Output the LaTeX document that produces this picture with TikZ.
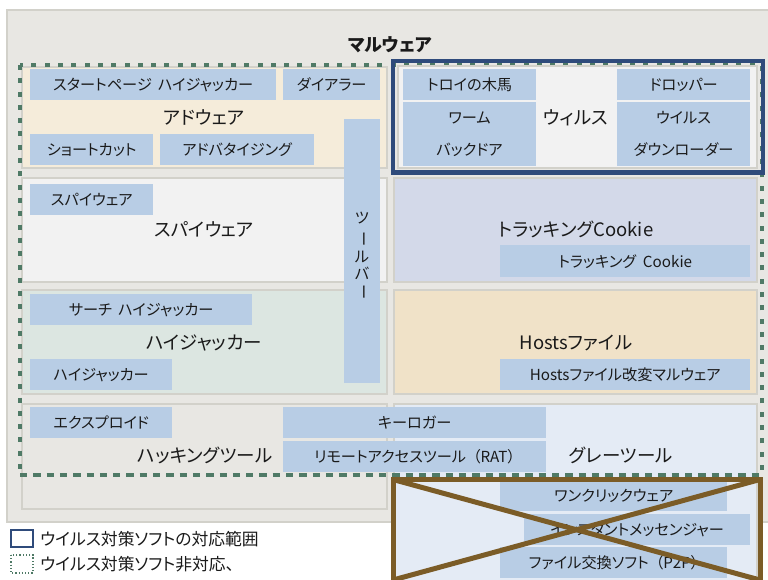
\documentclass[tikz,border=0pt]{standalone}
\usepackage{fontspec}
\usepackage{graphicx}
\setmainfont{Noto Sans CJK JP}[RawFeature=+palt]
\definecolor{outerbg}{HTML}{E8E7E3}
\definecolor{panelborder}{HTML}{D2D1CA}
\definecolor{adwarebg}{HTML}{F5ECDA}
\definecolor{lightbg}{HTML}{F2F2F2}
\definecolor{cookiebg}{HTML}{D3D9E9}
\definecolor{hijackbg}{HTML}{DCE6E1}
\definecolor{hostsbg}{HTML}{F0E2C8}
\definecolor{greybg}{HTML}{E4EBF5}
\definecolor{boxblue}{HTML}{B8CDE5}
\definecolor{dotgreen}{HTML}{4F7A66}
\definecolor{navy}{HTML}{2F4B7B}
\definecolor{brown}{HTML}{7B5C27}
\definecolor{txt}{HTML}{1A1A1A}
\begin{document}
\begin{tikzpicture}[x=1pt,y=-1pt,
  panel/.style={draw=panelborder, line width=2pt},
  bx/.style={fill=boxblue, inner sep=0pt, anchor=north west, text=txt,
     font=\fontsize{15.2}{18}\selectfont},
  lbl/.style={inner sep=0pt, text=txt, font=\fontsize{15.2}{18}\selectfont},
  big/.style={inner sep=0pt, text=txt, font=\fontsize{18.5}{22}\selectfont},
  greendots/.style={draw=dotgreen, line width=4pt, dash pattern=on 5pt off 8.3pt},
]
\clip (0,0) rectangle (768,580);
\fill[white] (0,0) rectangle (768,580);
% outer
\draw[panel, fill=outerbg] (7,10) rectangle (790,522);
\node[inner sep=0pt, text=txt, font=\fontsize{18}{21}\selectfont\bfseries] (title) at (390,45) {マルウェア};
% panels
\draw[panel, fill=adwarebg] (22,67) rectangle (387,168);
\draw[panel, fill=lightbg] (22,178) rectangle (387,282);
\draw[panel, fill=cookiebg] (394,178) rectangle (757,282);
\draw[panel, fill=hijackbg] (22,290) rectangle (387,394);
\draw[panel, fill=hostsbg] (394,290) rectangle (757,394);
\draw[panel, fill=outerbg] (22,404) rectangle (387,509);
\draw[panel, fill=greybg] (394,404) rectangle (757,600);
% green dotted range
\draw[greendots] (20,65) rectangle (762,475);
% virus
\draw[panel, fill=lightbg] (398,66) rectangle (757,168);
\draw[navy, line width=4.5pt] (393,61) rectangle (763,172.5);

% adware
\node[bx, minimum width=246pt, minimum height=31pt] (sph) at (30,69) {スタートページ\hspace{0.4em}ハイジャッカー};
\node[bx, minimum width=97pt, minimum height=31pt] (dialer) at (283,69) {ダイアラー};
\node[big] (adware) at (204,117) {アドウェア};
\node[bx, minimum width=123pt, minimum height=31pt] (shortcut) at (30,134) {ショートカット};
\node[bx, minimum width=154pt, minimum height=31pt] (advert) at (160,134) {アドバタイジング};
% toolbar
\node[bx, minimum width=36pt, minimum height=264pt] (toolbar) at (344,119) {};
\node[lbl] (tb1) at (362,218) {ツ};
\node[lbl] (tb2) at (362,239) {\rotatebox[origin=c]{-90}{ー}};
\node[lbl] (tb3) at (362,257) {ル};
\node[lbl] (tb4) at (362,273) {バ};
\node[lbl] (tb5) at (362,292) {\rotatebox[origin=c]{-90}{ー}};
% virus contents
\node[bx, minimum width=133pt, minimum height=31pt] (trojan) at (403,69) {トロイの木馬};
\node[bx, minimum width=133pt, minimum height=64pt] (wormbox) at (403,102) {};
\node[lbl] (worm) at (469.5,118) {ワーム};
\node[lbl] (backdoor) at (469.5,150) {バックドア};
\node[big] (virus) at (576,118) {ウィルス};
\node[bx, minimum width=133pt, minimum height=31pt] (dropper) at (617,69) {ドロッパー};
\node[bx, minimum width=133pt, minimum height=64pt] (dlbox) at (617,102) {};
\node[lbl] (vir2) at (683.5,118) {ウイルス};
\node[lbl] (downloader) at (683.5,150) {ダウンローダー};
% spyware
\node[bx, minimum width=123pt, minimum height=31pt] (spybox) at (30,184) {スパイウェア};
\node[big] (spyware) at (204,229) {スパイウェア};
% cookie
\node[big] (cookie) at (576,229) {トラッキングCookie};
\node[bx, minimum width=250pt, minimum height=32pt] (cookiebox) at (500,245) {トラッキング\hspace{0.45em}Cookie};
% hijacker
\node[bx, minimum width=222pt, minimum height=31pt] (search) at (30,294) {サーチ\hspace{0.4em}ハイジャッカー};
\node[big] (hijacker) at (204,343) {ハイジャッカー};
\node[bx, minimum width=142pt, minimum height=31pt] (hijbox) at (30,359) {ハイジャッカー};
% hosts
\node[big] (hosts) at (576,343) {Hostsファイル};
\node[bx, minimum width=250pt, minimum height=31pt] (hostsbox) at (500,359) {Hostsファイル改変マルウェア};
% hacking tools
\node[bx, minimum width=142pt, minimum height=31pt] (exploit) at (30,407) {エクスプロイド};
\node[big] (hacking) at (205,455) {ハッキングツール};
\node[bx, minimum width=263pt, minimum height=31pt] (keylogger) at (283,407) {キーロガー};
\node[bx, minimum width=263pt, minimum height=31pt] (rat) at (283,441) {リモートアクセスツール\hspace{0.45em}（RAT）};
% grey tools
\node[big] (grey) at (621,455) {グレーツール};
\node[bx, minimum width=227pt, minimum height=31pt] (oneclick) at (500,480) {ワンクリックウェア};
\node[bx, minimum width=226pt, minimum height=31pt] (im) at (524,514) {インスタントメッセンジャー};
\node[bx, minimum width=227pt, minimum height=31pt] (p2p) at (500,547) {ファイル交換ソフト\hspace{0.45em}（P2P）};
% redraw green bottom line over boxes
\draw[greendots] (20,475) -- (762,475);
% brown cross
\draw[brown, line width=5pt] (393,479.5) rectangle (760,600);
\draw[brown, line width=5pt] (393,479.5) -- (760,580);
\draw[brown, line width=5pt] (760,479.5) -- (393,580);
% legend
\draw[navy, line width=2.5pt] (11,530) rectangle (33,547);
\node[lbl, anchor=west, font=\fontsize{16.8}{20}\selectfont] (leg1) at (40,539) {ウイルス対策ソフトの対応範囲};
\draw[dotgreen, line width=1.2pt, dotted] (11,555) rectangle (33,573);
\node[lbl, anchor=west, font=\fontsize{16.8}{20}\selectfont] (leg2) at (40,564) {ウイルス対策ソフト非対応、};
\end{tikzpicture}
\end{document}
